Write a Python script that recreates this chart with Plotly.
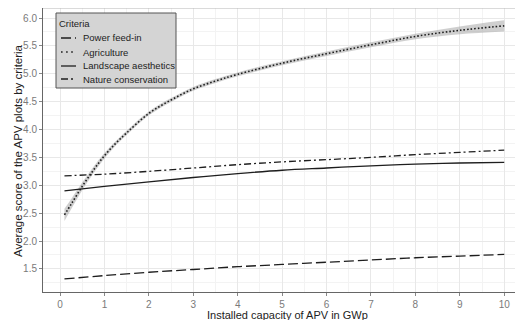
import plotly.graph_objects as go

# ---- data ----
x_agri = [0.1, 0.25, 0.5, 0.75, 1, 1.25, 1.5, 2, 2.5, 3, 3.5, 4, 5, 6, 7, 8, 9, 10]
agriculture = [2.47, 2.66, 2.98, 3.27, 3.53, 3.75, 3.94, 4.29, 4.53, 4.73, 4.87, 4.99, 5.19, 5.36, 5.52, 5.67, 5.78, 5.86]
agri_lower = [2.36, 2.57, 2.91, 3.21, 3.48, 3.71, 3.90, 4.255, 4.495, 4.695, 4.835, 4.955, 5.155, 5.32, 5.475, 5.62, 5.71, 5.76]
agri_upper = [2.58, 2.75, 3.05, 3.33, 3.58, 3.79, 3.98, 4.325, 4.565, 4.765, 4.905, 5.025, 5.225, 5.40, 5.565, 5.72, 5.85, 5.96]

x_lin = [0.1, 1, 2, 3, 4, 5, 6, 7, 8, 9, 10]
power_feed_in = [1.32, 1.38, 1.44, 1.49, 1.54, 1.58, 1.62, 1.66, 1.70, 1.73, 1.76]
landscape = [2.90, 2.98, 3.06, 3.14, 3.21, 3.27, 3.31, 3.35, 3.38, 3.40, 3.41]
nature = [3.17, 3.20, 3.25, 3.31, 3.37, 3.42, 3.46, 3.50, 3.55, 3.59, 3.63]

criteria = ["Power feed-in", "Agriculture", "Landscape aesthetics", "Nature conservation"]
legend_title = "Criteria"
x_title = "Installed capacity of APV in GWp"
y_title = "Average score of the APV plots by criteria"

dashes = ["10px,4px", "1.6px,2px", "solid", "7px,3px,2px,3px"]
legend_dashes = ["10px,4px", "1.6px,3.5px", "solid", "7px,3px,2px,3px"]
widths = [1.3, 1.6, 1.3, 1.3]
LINE = "#1e1e1e"

fig = go.Figure()

# ribbon for agriculture
fig.add_trace(go.Scatter(x=x_agri, y=agri_lower, mode="lines", line=dict(width=0, shape="spline"),
                         hoverinfo="skip", showlegend=False))
fig.add_trace(go.Scatter(x=x_agri, y=agri_upper, mode="lines", line=dict(width=0, shape="spline"),
                         fill="tonexty", fillcolor="rgba(160,160,160,0.5)", hoverinfo="skip", showlegend=False))

series = [(x_lin, power_feed_in), (x_agri, agriculture), (x_lin, landscape), (x_lin, nature)]
for (xs, ys), name, d, w in zip(series, criteria, dashes, widths):
    fig.add_trace(go.Scatter(x=xs, y=ys, mode="lines", name=name,
                             line=dict(color=LINE, width=w, dash=d, shape="spline"),
                             showlegend=False))

# page body has an 8px margin: the figure is placed 8px right and down
OFF = 8
W, H = 523 - OFF, 320 - OFF
# plot area geometry in window pixels
L, R, T, B = 43, 522, 8, 292
PW, PH = R - L, B - T
def px(xp): return (xp - L) / PW
def py(yp): return (B - yp) / PH

shapes = []
annotations = []
# top border
shapes.append(dict(type="line", xref="paper", yref="paper", x0=0, x1=1.01, y0=1, y1=1,
                   line=dict(color="#b5b5b5", width=1)))
# legend box
shapes.append(dict(type="rect", xref="paper", yref="paper", x0=px(56), x1=px(176), y0=py(88), y1=py(13),
                   fillcolor="#d4d4d4", line=dict(color="#555555", width=1), layer="above"))
annotations.append(dict(text=legend_title, xref="paper", yref="paper", x=px(58), y=py(23),
                        xanchor="left", yanchor="middle", showarrow=False, borderpad=0,
                        font=dict(size=9.5, color="#222222")))
item_y = [38, 52, 66, 79]
for name, d, w, yy in zip(criteria, legend_dashes, widths, item_y):
    shapes.append(dict(type="line", xref="paper", yref="paper", x0=px(61), x1=px(76), y0=py(yy), y1=py(yy),
                       line=dict(color=LINE, width=w, dash=d), layer="above"))
    annotations.append(dict(text=name, xref="paper", yref="paper", x=px(82), y=py(yy),
                            xanchor="left", yanchor="middle", showarrow=False, borderpad=0,
                            font=dict(size=9.5, color="#222222")))
# axis titles
annotations.append(dict(text=x_title, xref="paper", yref="paper", x=px(287), y=py(314.5),
                        xanchor="center", yanchor="middle", showarrow=False, borderpad=0,
                        font=dict(size=11, color="#222222")))
annotations.append(dict(text=y_title, xref="paper", yref="paper", x=px(18), y=py(151),
                        xanchor="center", yanchor="middle", showarrow=False, textangle=-90, borderpad=0,
                        font=dict(size=11.5, color="#222222")))

fig.update_layout(
    width=W, height=H,
    margin=dict(l=L - OFF, r=W - (R - OFF), t=T - OFF, b=H - (B - OFF), pad=0),
    paper_bgcolor="white", plot_bgcolor="white",
    font=dict(family="Liberation Sans, Arial, sans-serif", color="#222222"),
    shapes=shapes, annotations=annotations,
    showlegend=False,
)
fig.update_xaxes(
    range=[-0.383, 10.4], dtick=1, tick0=0, automargin=False,
    showgrid=True, gridcolor="#e8e8e8", gridwidth=1,
    minor=dict(dtick=0.5, showgrid=True, gridcolor="#f3f3f3", gridwidth=1),
    showline=True, linecolor="#666666", linewidth=1,
    ticks="outside", ticklen=2.5, tickcolor="#888888",
    tickfont=dict(size=10, color="#7a7a7a"),
    zeroline=False,
)
fig.update_yaxes(
    range=[1.086, 6.18], dtick=0.5, tick0=0, tickformat=".1f", automargin=False,
    showgrid=True, gridcolor="#e8e8e8", gridwidth=1,
    minor=dict(dtick=0.25, showgrid=True, gridcolor="#f3f3f3", gridwidth=1),
    showline=True, linecolor="#666666", linewidth=1,
    ticks="outside", ticklen=3, tickcolor="#888888",
    tickfont=dict(size=10, color="#7a7a7a"),
    zeroline=False,
)

fig.write_html("out.html")
